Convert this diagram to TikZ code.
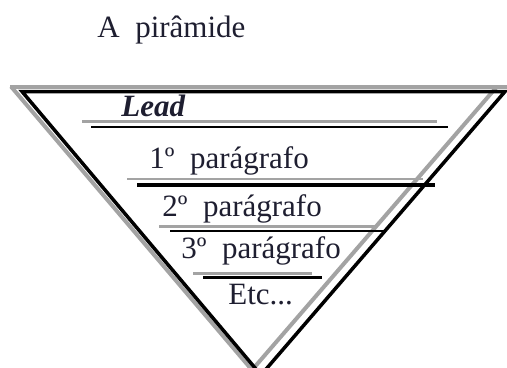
\documentclass[tikz,border=0pt]{standalone}
\usepackage{fontspec}
\setmainfont{Liberation Serif}
\usetikzlibrary{positioning}
\definecolor{shadegray}{HTML}{A3A3A3}
\definecolor{inkdark}{HTML}{1E1E30}

\begin{document}
\begin{tikzpicture}[
    x=0.5bp, y=-0.5bp,
    line cap=butt, line join=miter,
    shadeline/.style = {draw=shadegray, line width=2bp},
    inkline/.style   = {draw=black, line width=1.75bp},
    lbl/.style       = {anchor=base west, inner sep=0pt, text=inkdark,
                        font=\fontsize{15.5bp}{18bp}\selectfont},
  ]
  \useasboundingbox (0,0) rectangle (507,367);
  \clip (0,0) rectangle (507,367);

  % ===================================================================
  % Title
  % ===================================================================
  \node[lbl] (title) at (97,37) {A\ \ pirâmide};

  % ===================================================================
  % Inverted pyramid: grey shadow behind, black outline on top
  % ===================================================================
  \coordinate (sl) at (11,86.5);
  \coordinate (sr) at (497,86.5);
  \coordinate (sa) at (252,370);
  \coordinate (bl) at (22,91.5);
  \coordinate (br) at (505,91.5);
  \coordinate (ba) at (261,375);

  \draw[shadeline] (sl) -- (sa) -- (sr);
  \draw[shadeline] (10,86.5) -- (512,86.5);
  \draw[inkline] (bl) -- (br) -- (ba) -- cycle;

  % ===================================================================
  % Layers: text with a grey rule and a black rule beneath each
  % ===================================================================
  \node[lbl, font=\fontsize{15.5bp}{18bp}\selectfont\bfseries\itshape]
    (lead) at (121,116.7) {Lead};
  \draw[shadeline, line width=1.3bp] (82,121.5) -- (437,121.5);
  \draw[inkline, line width=1bp]     (91,126.5) -- (448,126.5);

  \node[lbl] (par1) at (149,168.3) {1º\ \ parágrafo};
  \draw[shadeline, line width=1.3bp] (127,179) -- (423,179);
  \draw[inkline, line width=2bp]     (137,184.5) -- (435,184.5);

  \node[lbl] (par2) at (162,216.5) {2º\ \ parágrafo};
  \draw[shadeline, line width=1.5bp] (159,226.5) -- (375,226.5);
  \draw[inkline, line width=1.2bp]   (170,231) -- (386,231);

  \node[lbl] (par3) at (181,258.3) {3º\ \ parágrafo};
  \draw[shadeline, line width=1.5bp] (193,273) -- (312,273);
  \draw[inkline, line width=1.2bp]   (203,277.5) -- (322,277.5);

  \node[lbl] (etc) at (228,304.3) {Etc...};

\end{tikzpicture}
\end{document}
